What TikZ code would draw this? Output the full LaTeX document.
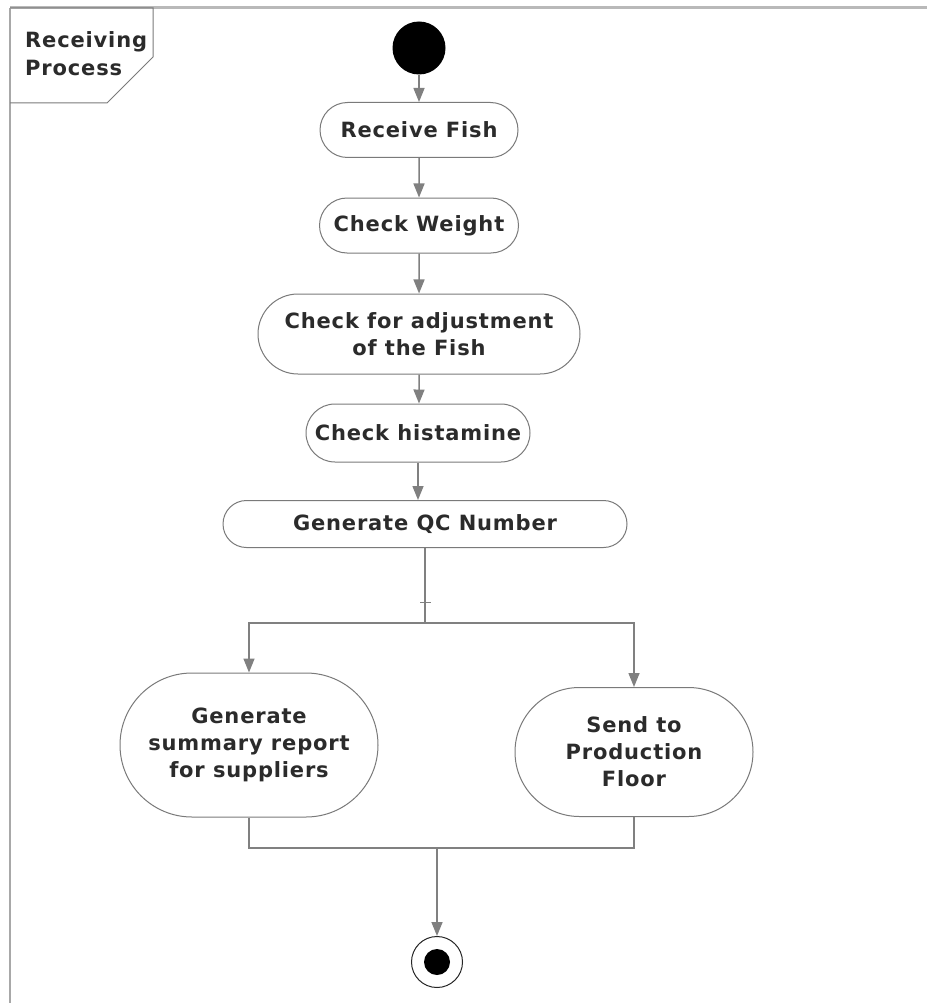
\documentclass[tikz,border=0pt]{standalone}
\usepackage{fontspec}
\setmainfont{DejaVu Sans}
\newfontfamily\actfont[LetterSpace=4.0]{DejaVu Sans}
\usetikzlibrary{shapes.misc,arrows.meta}

\definecolor{edgegray}{HTML}{808080}
\definecolor{boxgray}{HTML}{7A7A7A}
\definecolor{framegray}{HTML}{A8A8A8}
\definecolor{txt}{HTML}{2B2B2B}

\tikzset{
  activity/.style={rounded rectangle, draw=boxgray, line width=1pt, fill=white,
    text=txt, font=\actfont\bfseries\fontsize{21}{27}\selectfont,
    align=center, inner sep=0pt},
  flow/.style={draw=edgegray, line width=1.5pt},
  arr/.style={flow, -{Triangle[length=14pt,width=11pt]}},
}

\begin{document}
\begin{tikzpicture}[x=1pt,y=-1pt]
\useasboundingbox (0,0) rectangle (927,1003);
\fill[white] (0,0) rectangle (927,1003);

% frame of the activity
\draw[framegray!80, line width=3pt] (10,8) -- (927,8);
\draw[framegray, line width=2pt] (10,1003) -- (10,8);
\draw[boxgray, line width=1pt] (10,8) -- (153,8) -- (153,57) -- (107,103) -- (10,103);
\node[anchor=west, align=left, inner sep=0pt, text=txt,
      font=\actfont\bfseries\fontsize{21}{28}\selectfont] (title) at (25,54) {Receiving\\Process};

% initial and final nodes
\node[circle, fill=black, minimum size=53pt, inner sep=0pt] (start) at (419,48) {};
\node[circle, draw=black!85, line width=1pt, fill=white, minimum size=51pt, inner sep=0pt] (end) at (437,962) {};
\node[circle, fill=black, minimum size=26pt, inner sep=0pt] (enddot) at (end.center) {};

% actions
\node[activity, minimum width=198pt, minimum height=55pt] (rf)   at (419,130) {Receive Fish};
\node[activity, minimum width=199pt, minimum height=55pt] (cw)   at (419,225.5) {Check Weight};
\node[activity, minimum width=322pt, minimum height=80pt] (adj)  at (419,334) {Check for adjustment\\of the Fish};
\node[activity, minimum width=224pt, minimum height=58pt] (hist) at (418,433) {Check histamine};
\node[activity, minimum width=404pt, minimum height=47pt] (qc)   at (425,524) {Generate QC Number};
\node[activity, minimum width=258pt, minimum height=144pt] (sum)  at (249,745) {Generate\\summary report\\for suppliers};
\node[activity, minimum width=238pt, minimum height=129pt] (send) at (634,752) {Send to\\Production\\Floor};

% control flow
\draw[arr] (start) -- (rf);
\draw[arr] (rf) -- (cw);
\draw[arr] (cw) -- (adj);
\draw[arr] (adj) -- (adj |- hist.north);
\draw[arr] (hist) -- (hist |- qc.north);

\coordinate (fork) at (425,623);
\draw[flow] (qc) -- (fork);
\draw[flow, line width=1pt] (420,602) -- (431,602);
\draw[arr] (fork) -| (sum);
\draw[arr] (fork) -| (send);

\coordinate (join) at (437,848);
\draw[flow] (sum) |- (join);
\draw[flow] (send) |- (join);
\draw[arr] (join) -- (end);
\end{tikzpicture}
\end{document}
